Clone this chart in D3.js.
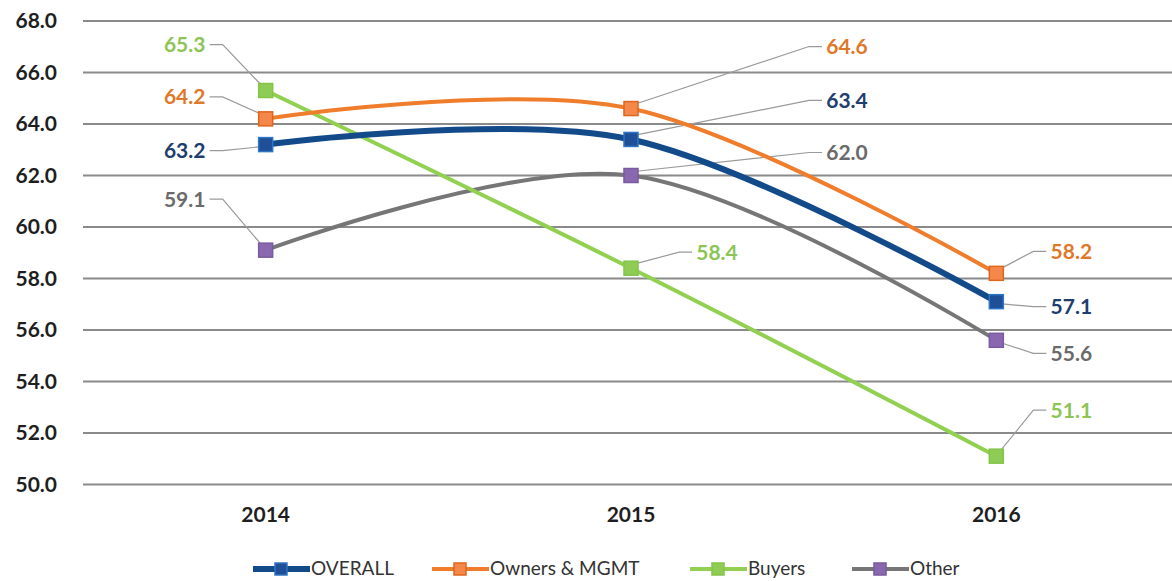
<!DOCTYPE html>
<html><head><meta charset="utf-8">
<script src="https://cdn.jsdelivr.net/npm/d3@7"></script>
<style>body{margin:0;background:#fff}svg{display:block}</style>
</head><body><svg id="c" width="1172" height="581"></svg>
<script>
const categories = ["2014","2015","2016"];
const seriesNames = ["OVERALL","Owners & MGMT","Buyers","Other"];
const overall = [63.2, 63.4, 57.1];
const owners = [64.2, 64.6, 58.2];
const buyers = [65.3, 58.4, 51.1];
const other = [59.1, 62.0, 55.6];
const yTicks = [50,52,54,56,58,60,62,64,66,68];

// styles / layout (not data)
const styles = {
  "OVERALL": {line:"#134a8a", width:6, mFill:"#1f4f96", mStroke:"#2e75c6", label:"#1d3e6e"},
  "Owners & MGMT": {line:"#ef7d2c", width:4, mFill:"#f4874a", mStroke:"#e0651c", label:"#e0782a"},
  "Buyers": {line:"#91d050", width:4, mFill:"#8fcc55", mStroke:"#84c447", label:"#8dc456"},
  "Other": {line:"#767676", width:4, mFill:"#8a68b0", mStroke:"#7a5aa2", label:"#6a6a6a"}
};
const labelOffsets = {
  "OVERALL": [[-81,6],[216,-39],[75,5]],
  "Owners & MGMT": [[-81,-22],[216,-62],[75,-22]],
  "Buyers": [[-81,-46],[86,-16],[75,-46]],
  "Other": [[-81,-51],[216,-23],[75,13]]
};
const seriesValues = {"OVERALL":overall,"Owners & MGMT":owners,"Buyers":buyers,"Other":other};

const svg = d3.select("#c");
const x = d3.scaleBand().domain(categories).range([83,1179]);
const cx = c => x(c) + x.bandwidth()/2;
const y = d3.scaleLinear().domain([50,68]).range([484.5,21]);
const font = "Lato, 'Open Sans', sans-serif";

// grid
svg.append("g").selectAll("line").data(yTicks).join("line")
  .attr("x1",83).attr("x2",1172).attr("y1",d=>y(d)).attr("y2",d=>y(d))
  .attr("stroke","#8a8a8a").attr("stroke-width",2);
// y labels
const yAxis = d3.axisLeft(y).tickValues(yTicks).tickFormat(d3.format(".1f")).tickSize(0).tickPadding(0);
const ya = svg.append("g").attr("transform","translate(57,0)").call(yAxis);
ya.select(".domain").remove();
ya.selectAll("text").attr("font-family",font).attr("font-weight","bold").attr("font-size",21).attr("fill","#1e1e1e");
// x labels
const xAxis = d3.axisBottom(x).tickSize(0).tickPadding(0);
const xa = svg.append("g").attr("transform","translate(0,507)").call(xAxis);
xa.select(".domain").remove();
xa.selectAll("text").attr("font-family",font).attr("font-weight","bold").attr("font-size",21).attr("fill","#1e1e1e");

const line = d3.line().x((d,i)=>cx(categories[i])).y(d=>y(d)).curve(d3.curveCardinal.tension(0));
const order = ["Other","Buyers","Owners & MGMT","OVERALL"];
// leader lines
seriesNames.forEach(s=>{
  const vals = seriesValues[s];
  vals.forEach((v,i)=>{
    const px = cx(categories[i]), py = y(v);
    const [dx,dy] = labelOffsets[s][i];
    const lx = px+dx, ly = py+dy;
    const left = dx < 0;
    const edge = left ? lx+25 : lx-25;
    const elbow = left ? edge+13 : edge-13;
    svg.append("polyline")
      .attr("points",[[edge,ly],[elbow,ly],[px + (left?-3:3), py + (dy<0?-4:(dy>0?2:0))]].map(p=>p.join(",")).join(" "))
      .attr("fill","none").attr("stroke","#9a9a9a").attr("stroke-width",1.2);
  });
});
order.forEach(s=>{
  const st = styles[s];
  svg.append("path").datum(seriesValues[s]).attr("d",line)
    .attr("fill","none").attr("stroke",st.line).attr("stroke-width",st.width).attr("stroke-linecap","round");
});
order.forEach(s=>{
  const st = styles[s];
  svg.append("g").selectAll("rect").data(seriesValues[s]).join("rect")
    .attr("x",(d,i)=>cx(categories[i])-7).attr("y",d=>y(d)-7).attr("width",14).attr("height",14)
    .attr("fill",st.mFill).attr("stroke",st.mStroke).attr("stroke-width",1.5);
});
// data labels
seriesNames.forEach(s=>{
  const st = styles[s];
  svg.append("g").selectAll("text").data(seriesValues[s]).join("text")
    .attr("x",(d,i)=>cx(categories[i])+labelOffsets[s][i][0])
    .attr("y",(d,i)=>y(d)+labelOffsets[s][i][1])
    .attr("dy","0.36em").attr("text-anchor","middle")
    .attr("font-family",font).attr("font-weight","bold").attr("font-size",21)
    .attr("fill",st.label).text(d=>d3.format(".1f")(d));
});
// legend
const legX = [253,432,690,852];
seriesNames.forEach((s,i)=>{
  const st = styles[s];
  const g = svg.append("g").attr("transform",`translate(${legX[i]},569)`);
  g.append("line").attr("x1",0).attr("x2",57).attr("y1",0).attr("y2",0)
    .attr("stroke",st.line).attr("stroke-width",st.width);
  g.append("rect").attr("x",22).attr("y",-6).attr("width",12).attr("height",12)
    .attr("fill",st.mFill).attr("stroke",st.mStroke).attr("stroke-width",1.5);
  g.append("text").attr("x",58).attr("y",0).attr("dy","0.34em")
    .attr("font-family",font).attr("font-size",19).attr("fill","#333").text(s);
});
</script></body></html>
